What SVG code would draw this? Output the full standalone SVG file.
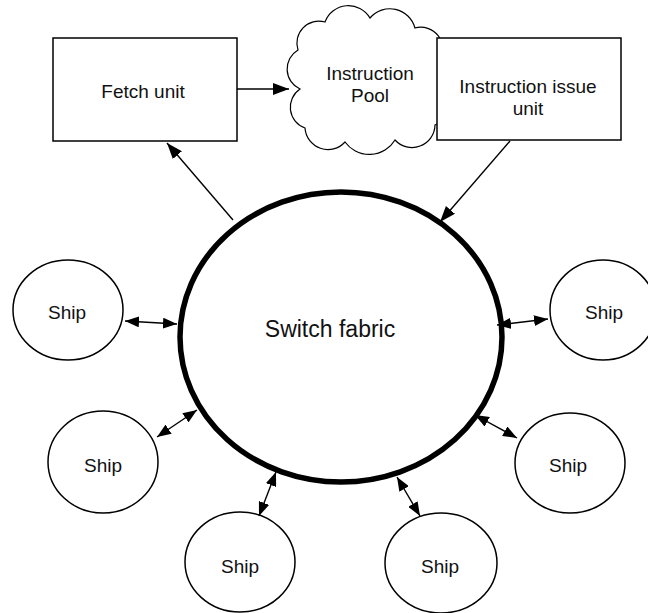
<svg xmlns="http://www.w3.org/2000/svg" width="648" height="613" viewBox="0 0 648 613">
<defs>
<style>
.box{fill:#fff;stroke:#000;stroke-width:1.5}
.ship{fill:#fff;stroke:#000;stroke-width:1.5}
.lbl{font-family:"Liberation Sans",Arial,sans-serif;font-size:19px;fill:#111;text-anchor:middle}
.big{font-size:23px}
.con{stroke:#000;stroke-width:1.4;fill:none}
</style>
<marker id="ah" viewBox="0 0 16 12" refX="16" refY="6" markerWidth="16" markerHeight="12" markerUnits="userSpaceOnUse" orient="auto-start-reverse">
<path d="M0,0 L16,6 L0,12 Z" fill="#000"/>
</marker>
<marker id="ahs" viewBox="0 0 14 11" refX="14" refY="5.5" markerWidth="14" markerHeight="11" markerUnits="userSpaceOnUse" orient="auto-start-reverse">
<path d="M0,0 L14,5.5 L0,11 Z" fill="#000"/>
</marker>
</defs>
<rect width="648" height="613" fill="#fff"/>

<g id="instruction-pool">
<path d="M300,89 A22,22 0 0 1 298,50 A22,22 0 0 1 325,22 A25,25 0 0 1 370,18 A26,26 0 0 1 415,28 A22,22 0 0 1 440,60 A36,36 0 0 1 435,125 A23,23 0 0 1 395,140 A30,30 0 0 1 345,142 A23,23 0 0 1 305,128 A22,22 0 0 1 300,89 Z" fill="#fff" stroke="#000" stroke-width="1.2"/>
<text class="lbl" x="370" y="80">Instruction</text>
<text class="lbl" x="370" y="102">Pool</text>
</g>

<g id="fetch-unit">
<rect class="box" x="53" y="38" width="184" height="103"/>
<text class="lbl" x="143" y="98">Fetch unit</text>
</g>

<g id="instruction-issue-unit">
<rect class="box" x="437" y="38" width="184" height="102"/>
<text class="lbl" x="528" y="93">Instruction issue</text>
<text class="lbl" x="528" y="115">unit</text>
</g>

<g id="switch-fabric">
<ellipse cx="341" cy="337" rx="161" ry="145" fill="#fff" stroke="#000" stroke-width="5.5"/>
<text class="lbl big" x="330" y="337">Switch fabric</text>
</g>

<g id="ship-left-1">
<ellipse class="ship" cx="68" cy="310" rx="55" ry="50"/>
<text class="lbl" x="67" y="319">Ship</text>
</g>
<g id="ship-right-1">
<ellipse class="ship" cx="603" cy="310" rx="53" ry="50"/>
<text class="lbl" x="604" y="319">Ship</text>
</g>
<g id="ship-left-2">
<ellipse class="ship" cx="103" cy="462" rx="55" ry="51"/>
<text class="lbl" x="103" y="472">Ship</text>
</g>
<g id="ship-right-2">
<ellipse class="ship" cx="570" cy="463" rx="55" ry="50"/>
<text class="lbl" x="568" y="472">Ship</text>
</g>
<g id="ship-bottom-left">
<ellipse class="ship" cx="240" cy="562" rx="55" ry="50"/>
<text class="lbl" x="240" y="573">Ship</text>
</g>
<g id="ship-bottom-right">
<ellipse class="ship" cx="441" cy="563" rx="56" ry="50"/>
<text class="lbl" x="440" y="573">Ship</text>
</g>

<g id="connectors">
<line class="con" x1="237" y1="89" x2="289" y2="89" marker-end="url(#ah)"/>
<line class="con" x1="233" y1="220" x2="167" y2="143" marker-end="url(#ah)"/>
<line class="con" x1="510" y1="141" x2="440" y2="222" marker-end="url(#ah)"/>
<line class="con" x1="125" y1="321" x2="177" y2="324" marker-start="url(#ahs)" marker-end="url(#ahs)"/>
<line class="con" x1="497" y1="325" x2="548" y2="319" marker-start="url(#ahs)" marker-end="url(#ahs)"/>
<line class="con" x1="157" y1="437" x2="197" y2="410" marker-start="url(#ahs)" marker-end="url(#ahs)"/>
<line class="con" x1="475" y1="415" x2="517" y2="438" marker-start="url(#ahs)" marker-end="url(#ahs)"/>
<line class="con" x1="276" y1="472" x2="259" y2="516" marker-start="url(#ahs)" marker-end="url(#ahs)"/>
<line class="con" x1="397" y1="477" x2="420" y2="516" marker-start="url(#ahs)" marker-end="url(#ahs)"/>
</g>
</svg>
